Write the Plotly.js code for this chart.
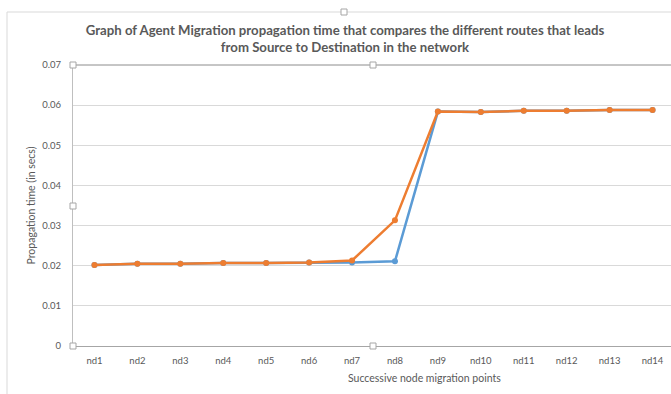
<!DOCTYPE html>
<html><head><meta charset="utf-8">
<script src="https://cdn.plot.ly/plotly-3.0.1.min.js"></script>
<style>html,body{margin:0;padding:0;overflow:hidden;background:#fff;width:671px;height:394px}#c{width:674px;height:394px}</style>
</head><body><div id="c"></div>
<script>
const categories = ["nd1","nd2","nd3","nd4","nd5","nd6","nd7","nd8","nd9","nd10","nd11","nd12","nd13","nd14"];
const routeA = [0.0202,0.0205,0.0205,0.0207,0.0207,0.0208,0.0208,0.0211,0.0584,0.0583,0.0586,0.0586,0.0588,0.0588];
const routeB = [0.0202,0.0205,0.0205,0.0207,0.0207,0.0208,0.0213,0.0313,0.0584,0.0583,0.0586,0.0586,0.0588,0.0588];
const yTicks = [0,0.01,0.02,0.03,0.04,0.05,0.06,0.07];

const W = 674, H = 394, L = 73, R = 0, T = 65, B = 48;
const pw = W - L - R, ph = H - T - B;
const px = v => (v - L) / pw;
const py = v => (H - B - v) / ph;

function handle(cx, cy) {
  const s = 3;
  return {type:'rect', xref:'paper', yref:'paper', x0:px(cx-s), x1:px(cx+s), y0:py(cy+s), y1:py(cy-s),
    line:{color:'#a6a6a6', width:1}, fillcolor:'#ffffff', layer:'above'};
}

const traces = [
  {x: categories, y: routeA, type:'scatter', mode:'lines+markers', name:'Route 1',
   line:{color:'#5b9bd5', width:2.5}, marker:{color:'#5b9bd5', size:6}},
  {x: categories, y: routeB, type:'scatter', mode:'lines+markers', name:'Route 2',
   line:{color:'#ed7d31', width:2.5}, marker:{color:'#ed7d31', size:6}}
];

const layout = {
  width: W, height: H,
  margin: {l:L, r:R, t:T, b:B, pad:0},
  paper_bgcolor:'#fff', plot_bgcolor:'#fff',
  showlegend:false,
  font:{family:'Lato, "Open Sans", sans-serif', color:'#595959', size:9},
  title:{text:'<b>Graph of Agent Migration propagation time that compares the different routes that leads<br>from Source to Destination in the network</b>',
    font:{family:'Lato, sans-serif', size:13.2, color:'#595959'}, x:345/W, xref:'container', xanchor:'center', y:1 - 35/H, yref:'container', yanchor:'top'},
  xaxis:{type:'category', range:[-0.5,13.5], showgrid:false, zeroline:false, showline:true,
    linecolor:'#a6a6a6', linewidth:1, ticks:'', ticklabelstandoff:6, tickfont:{size:9.5, color:'#595959'}, fixedrange:true},
  yaxis:{range:[0,0.07], tickvals:yTicks, ticktext:yTicks.map(v=>String(v)), showgrid:true, gridcolor:'#d9d9d9', gridwidth:1,
    zeroline:false, showline:true, linecolor:'#bfbfbf', linewidth:1, ticks:'', ticklabelstandoff:9,
    tickfont:{size:9.5, color:'#595959'},
    title:{text:'Propagation time (in secs)', font:{size:10.5, color:'#595959'}, standoff:4}, fixedrange:true},
  annotations:[
    {text:'Successive node migration points', xref:'paper', yref:'paper', x:px(424), y:py(378), xanchor:'center', yanchor:'middle',
     showarrow:false, font:{size:10.5, color:'#595959'}}
  ],
  shapes:[
    {type:'line', xref:'paper', yref:'paper', x0:0, x1:1, y0:1, y1:1, line:{color:'#8c8c8c', width:1}},
    {type:'line', xref:'paper', yref:'paper', x0:px(7), x1:px(674), y0:py(12), y1:py(12), line:{color:'#d9d9d9', width:1}},
    {type:'line', xref:'paper', yref:'paper', x0:px(7), x1:px(7), y0:py(12), y1:py(394), line:{color:'#d9d9d9', width:1}},
    handle(73,65), handle(373,65), handle(73,206), handle(73,346), handle(373,346),
    handle(344,12)
  ]
};

Plotly.newPlot('c', traces, layout, {staticPlot:true, displayModeBar:false});
</script>
</body></html>
